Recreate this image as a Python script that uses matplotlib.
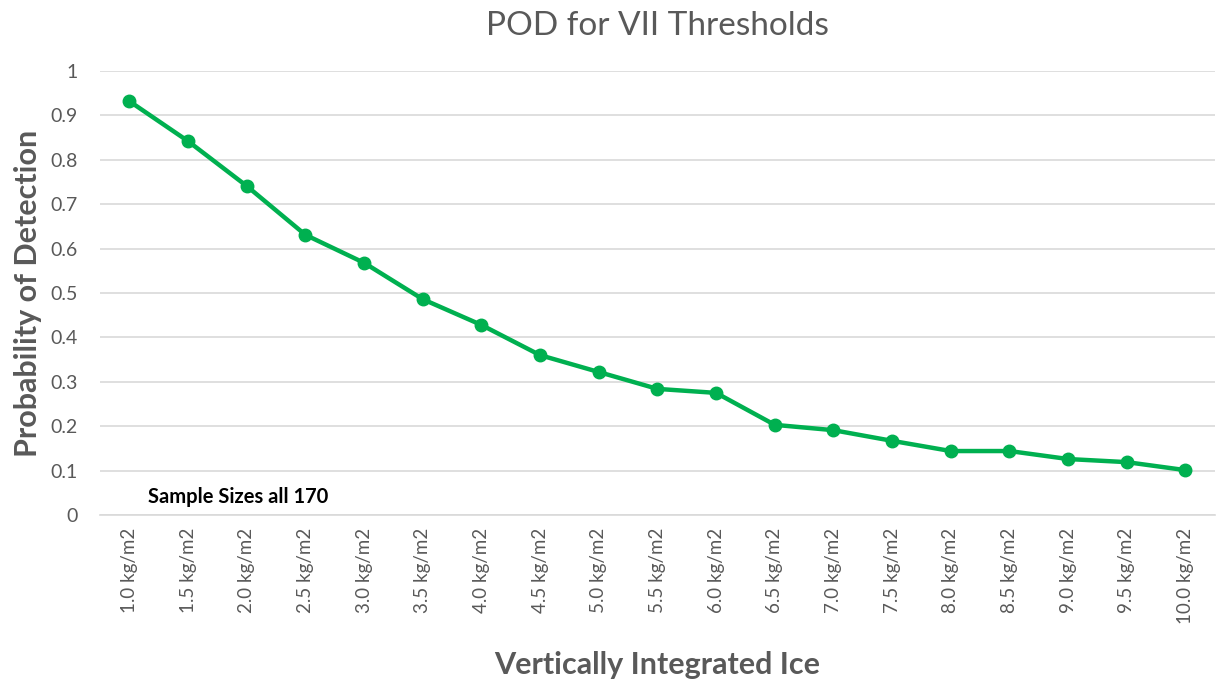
import matplotlib
matplotlib.use('Agg')
import matplotlib.pyplot as plt

thresholds = ['1.0 kg/m2', '1.5 kg/m2', '2.0 kg/m2', '2.5 kg/m2', '3.0 kg/m2',
              '3.5 kg/m2', '4.0 kg/m2', '4.5 kg/m2', '5.0 kg/m2', '5.5 kg/m2',
              '6.0 kg/m2', '6.5 kg/m2', '7.0 kg/m2', '7.5 kg/m2', '8.0 kg/m2',
              '8.5 kg/m2', '9.0 kg/m2', '9.5 kg/m2', '10.0 kg/m2']
pod = [0.932, 0.842, 0.741, 0.631, 0.568, 0.486, 0.428, 0.360, 0.322, 0.284,
       0.275, 0.203, 0.191, 0.167, 0.144, 0.144, 0.126, 0.119, 0.101]
y_ticks = [0, 0.1, 0.2, 0.3, 0.4, 0.5, 0.6, 0.7, 0.8, 0.9, 1]
y_tick_labels = ['0', '0.1', '0.2', '0.3', '0.4', '0.5', '0.6', '0.7', '0.8', '0.9', '1']

plt.rcParams['font.family'] = ['Lato', 'DejaVu Sans']
gray = '#595959'

fig = plt.figure(figsize=(12.17, 6.81), dpi=100)
ax = fig.add_axes([0.0822, 0.2438, 0.916, 0.6519])

x = range(len(thresholds))
ax.plot(x, pod, color='#00B050', linewidth=3.2, marker='o', markersize=9,
        zorder=3)

ax.set_xlim(-0.5, len(thresholds) - 0.5)
ax.set_ylim(0, 1)
ax.set_yticks(y_ticks)
ax.set_yticklabels(y_tick_labels)
ax.set_xticks(list(x))
ax.set_xticklabels(thresholds, rotation=90)
ax.tick_params(axis='y', length=0, pad=16, labelsize=14, labelcolor=gray)
ax.tick_params(axis='x', length=0, pad=9, labelsize=13.5, labelcolor=gray)
ax.grid(axis='y', color='#D9D9D9', linewidth=1.2)
ax.set_axisbelow(True)
for side in ['top', 'right', 'left']:
    ax.spines[side].set_visible(False)
ax.spines['bottom'].set_color('#D9D9D9')
ax.spines['bottom'].set_linewidth(1.2)

ax.set_title('POD for VII Thresholds', fontsize=24, color=gray, pad=26)
ax.set_ylabel('Probability of Detection', fontsize=22, fontweight='bold',
              color=gray, labelpad=6)
ax.set_xlabel('Vertically Integrated Ice', fontsize=22, fontweight='bold',
              color=gray, labelpad=20)

ax.text(0.32, 0.04, 'Sample Sizes all 170', fontsize=14.5, fontweight='bold',
        color='black', va='center')

fig.savefig('out.png', dpi=100)
